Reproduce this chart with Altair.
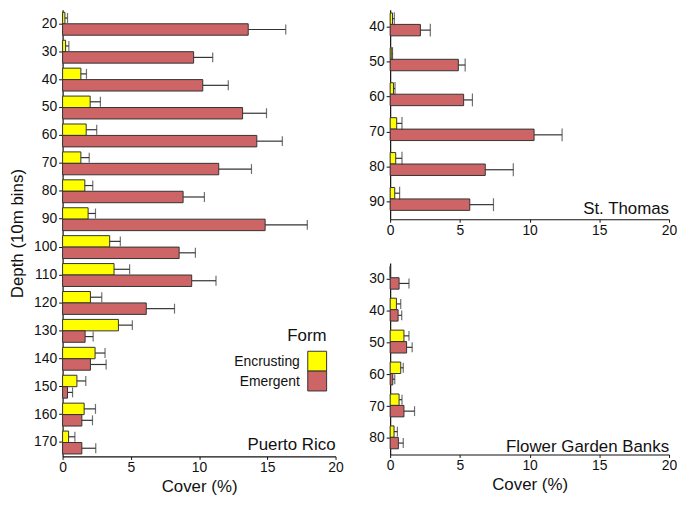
import altair as alt
import pandas as pd

forms = ["Encrusting", "Emergent"]
form_colors = ["#FFFF00", "#CD6465"]

# Puerto Rico
pr_depth = [20, 30, 40, 50, 60, 70, 80, 90, 100, 110, 120, 130, 140, 150, 160, 170]
pr_enc = [0.17, 0.22, 1.34, 2.02, 1.73, 1.34, 1.63, 1.87, 3.45, 3.77, 2.04, 4.09, 2.38, 1.05, 1.58, 0.44]
pr_enc_se = [0.19, 0.24, 0.41, 0.75, 0.77, 0.61, 0.58, 0.54, 0.78, 1.14, 0.83, 1.02, 0.73, 0.65, 0.83, 0.46]
pr_em = [13.6, 9.6, 10.27, 13.19, 14.23, 11.44, 8.83, 14.84, 8.54, 9.46, 6.13, 1.65, 2.04, 0.36, 1.41, 1.41]
pr_em_se = [2.75, 1.4, 1.87, 1.75, 1.87, 2.4, 1.56, 3.09, 1.19, 1.78, 2.07, 0.59, 1.15, 0.37, 0.78, 1.02]

# St. Thomas
st_depth = [40, 50, 60, 70, 80, 90]
st_enc = [0.17, 0.12, 0.24, 0.47, 0.40, 0.33]
st_enc_se = [0.13, 0.05, 0.11, 0.38, 0.45, 0.35]
st_em = [2.17, 4.89, 5.27, 10.32, 6.82, 5.71]
st_em_se = [0.71, 0.49, 0.63, 2.01, 2.01, 1.70]

# Flower Garden Banks
fgb_depth = [30, 40, 50, 60, 70, 80]
fgb_enc = [0.0, 0.45, 0.99, 0.76, 0.64, 0.28]
fgb_enc_se = [0.0, 0.31, 0.36, 0.18, 0.21, 0.24]
fgb_em = [0.64, 0.57, 1.18, 0.19, 0.99, 0.59]
fgb_em_se = [0.71, 0.26, 0.40, 0.14, 0.76, 0.35]

x_ticks = [0, 5, 10, 15, 20]
FONT = "Liberation Sans"
INK = "#111111"
EDGE = "#333333"


def make_df(depths, enc, enc_se, em, em_se):
    rows = []
    for d, m, s in zip(depths, enc, enc_se):
        rows.append({"depth": d, "form": "Encrusting", "cover": m, "upper": m + s, "se": s})
    for d, m, s in zip(depths, em, em_se):
        rows.append({"depth": d, "form": "Emergent", "cover": m, "upper": m + s, "se": s})
    return pd.DataFrame(rows)


def panel(df, depths, label, w, h, pad, cap, label_dy, ytitle=None, xtitle=None):
    y_enc = alt.Y("depth:O", sort=depths,
                  scale=alt.Scale(paddingInner=pad, paddingOuter=pad / 2),
                  axis=alt.Axis(title=ytitle, tickSize=4, labelPadding=2, titlePadding=7))
    yo_enc = alt.YOffset("form:N", sort=forms, scale=alt.Scale(domain=forms, paddingInner=0, paddingOuter=0))
    x_axis = alt.Axis(title=xtitle, values=x_ticks, tickSize=3, labelPadding=1, titlePadding=4,
                      labelFlush=False)
    x_scale = alt.Scale(domain=[0, 20], nice=False, padding=0, zero=True)

    bars = alt.Chart(df).mark_bar(stroke=EDGE, strokeWidth=1).encode(
        y=y_enc, yOffset=yo_enc,
        x=alt.X("cover:Q", scale=x_scale, axis=x_axis),
        color=alt.Color("form:N", sort=forms,
                        scale=alt.Scale(domain=forms, range=form_colors),
                        legend=None),
    )
    err = df[df["se"] > 0]
    rules = alt.Chart(err).mark_rule(color=EDGE, strokeWidth=1.2).encode(
        y=y_enc, yOffset=yo_enc,
        x=alt.X("cover:Q", scale=x_scale, axis=x_axis), x2="upper:Q",
    )
    caps = alt.Chart(err).mark_tick(color=EDGE, thickness=1.2, size=cap).encode(
        y=y_enc, yOffset=yo_enc,
        x=alt.X("upper:Q", scale=x_scale, axis=x_axis),
    )
    txt = alt.Chart(pd.DataFrame({"site": [label]})).mark_text(
        align="right", baseline="alphabetic", fontSize=17, font=FONT, color=INK
    ).encode(x=alt.value(w), y=alt.value(h - label_dy), text="site:N")
    return [bars, rules, caps, txt]


def legend_layers(x_right, y_title):
    layers = [
        alt.Chart(pd.DataFrame({"t": ["Form"]})).mark_text(
            align="right", baseline="alphabetic", fontSize=17, font=FONT, color=INK
        ).encode(x=alt.value(x_right), y=alt.value(y_title), text="t:N")
    ]
    box = 20
    top = y_title + 10
    for i, (f, c) in enumerate(zip(forms, form_colors)):
        y0 = top + i * box
        layers.append(
            alt.Chart(pd.DataFrame({"form": [f]})).mark_rect(
                fill=c, stroke=EDGE, strokeWidth=1
            ).encode(x=alt.value(x_right - 19), x2=alt.value(x_right),
                     y=alt.value(y0), y2=alt.value(y0 + box))
        )
        layers.append(
            alt.Chart(pd.DataFrame({"form": [f]})).mark_text(
                align="right", baseline="alphabetic", fontSize=14, font=FONT, color=INK
            ).encode(x=alt.value(x_right - 27), y=alt.value(y0 + 15), text="form:N")
        )
    return layers


pr_df = make_df(pr_depth, pr_enc, pr_enc_se, pr_em, pr_em_se)
st_df = make_df(st_depth, st_enc, st_enc_se, st_em, st_em_se)
fgb_df = make_df(fgb_depth, fgb_enc, fgb_enc_se, fgb_em, fgb_em_se)

PR_W, PR_H = 275, 450
R_W = 281
ST_H, FGB_H = 211, 193

pr = alt.layer(
    *panel(pr_df, pr_depth, "Puerto Rico", PR_W, PR_H, 0.18, 10, 7,
           ytitle="Depth (10m bins)", xtitle="Cover (%)"),
    *legend_layers(266, 334),
).properties(width=PR_W, height=PR_H)
st = alt.layer(*panel(st_df, st_depth, "St. Thomas", R_W, ST_H, 0.18, 13, 5)).properties(width=R_W, height=ST_H)
fgb = alt.layer(*panel(fgb_df, fgb_depth, "Flower Garden Banks", R_W, FGB_H, 0.21, 10, 3,
                       xtitle="Cover (%)")).properties(width=R_W, height=FGB_H)

right = alt.vconcat(st, fgb, spacing=26)
chart = alt.hconcat(pr, right, spacing=25).properties(
    padding=0
).configure_view(stroke=None).configure_axis(
    grid=False, domainColor=INK, tickColor=INK, labelColor=INK,
    titleColor=INK, labelFontSize=14, titleFontSize=17, labelFont=FONT,
    titleFont=FONT, titleFontWeight="normal", domainWidth=1.2,
)

chart.save("out.html", embed_options={"renderer": "svg", "actions": False})
